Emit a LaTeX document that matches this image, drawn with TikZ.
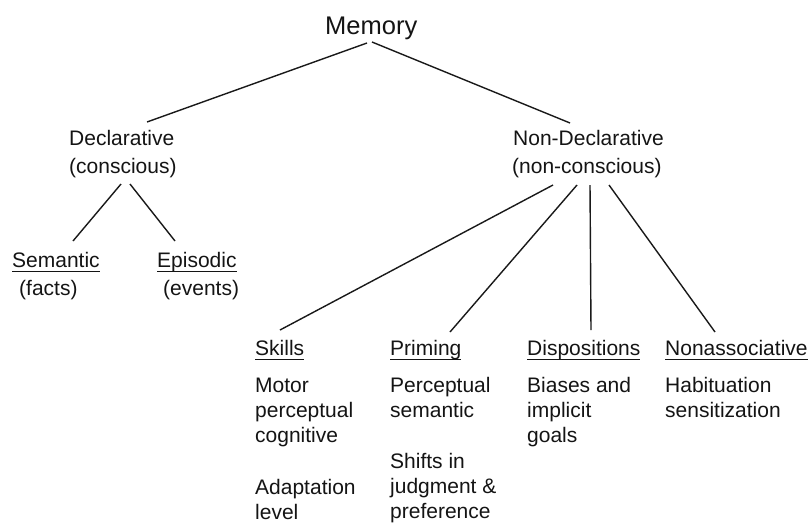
\documentclass[tikz,border=0pt]{standalone}
\usepackage{fontspec}
\setmainfont{Liberation Sans}
\newlength\ulwidth
% underline drawn at a fixed distance below the baseline
\newcommand\hdline[1]{\settowidth\ulwidth{#1}\rlap{\rule[-5.2pt]{\ulwidth}{1.3pt}}#1}
\begin{document}
\begin{tikzpicture}[x=1pt,y=-1pt,
  lbl/.style={anchor=base west,inner sep=0pt,font=\fontsize{21}{25}\selectfont,text=black!92},
  conn/.style={draw=black!90,line width=1.4pt}]
\useasboundingbox (0,0) rectangle (810,523);

% root
\node[lbl,font=\fontsize{25.5}{30}\selectfont] (mem) at (325,34) {Memory};

% first level
\node[lbl] (decl)  at (69,145)  {Declarative};
\node[lbl] (declc) at (69,173)  {(conscious)};
\node[lbl] (ndecl) at (513,145) {Non-Declarative};
\node[lbl] (ndeclc) at (512,173) {(non-conscious)};

% declarative branch
\node[lbl] (sem)  at (12,267)  {\hdline{Semantic}};
\node[lbl] (semb) at (19,295)  {(facts)};
\node[lbl] (epi)  at (157,267) {\hdline{Episodic}};
\node[lbl] (epib) at (163,295) {(events)};

% non-declarative branch
\node[lbl] (skl)  at (255,355) {\hdline{Skills}};
\node[lbl] (sklb) at (255,392) {\begin{tabular}[t]{@{}l@{}}Motor\\perceptual\\cognitive\\[27pt]Adaptation\\level\end{tabular}};
\node[lbl] (prm)  at (390,355) {\hdline{Priming}};
\node[lbl] (prmb) at (390,392) {\begin{tabular}[t]{@{}l@{}}Perceptual\\semantic\\[26pt]Shifts in\\judgment \&\\preference\end{tabular}};
\node[lbl] (dsp)  at (527,355) {\hdline{Dispositions}};
\node[lbl] (dspb) at (527,392) {\begin{tabular}[t]{@{}l@{}}Biases and\\implicit\\goals\end{tabular}};
\node[lbl] (nas)  at (665,355) {\hdline{Nonassociative}};
\node[lbl] (nasb) at (665,392) {\begin{tabular}[t]{@{}l@{}}Habituation\\sensitization\end{tabular}};

% connector ends
\coordinate (mem-l)  at (367,43);
\coordinate (mem-r)  at (372,42);
\coordinate (decl-t) at (147,122);
\coordinate (ndecl-t) at (570,123);
\coordinate (declc-l) at (121,184);
\coordinate (declc-r) at (130,184);
\coordinate (sem-t) at (73,241);
\coordinate (epi-t) at (175,241);
\coordinate (nd-1) at (553,185);
\coordinate (nd-2) at (577,185);
\coordinate (nd-3) at (590,185);
\coordinate (nd-4) at (609,185);
\coordinate (skl-t) at (280,330);
\coordinate (prm-t) at (450,332);
\coordinate (dsp-t) at (591,330);
\coordinate (nas-t) at (715,332);

\draw[conn] (mem-l) -- (decl-t);
\draw[conn] (mem-r) -- (ndecl-t);
\draw[conn] (declc-l) -- (sem-t);
\draw[conn] (declc-r) -- (epi-t);
\draw[conn] (nd-1) -- (skl-t);
\draw[conn] (nd-2) -- (prm-t);
\draw[conn] (nd-3) -- (dsp-t);
\draw[conn] (nd-4) -- (nas-t);
\end{tikzpicture}
\end{document}
